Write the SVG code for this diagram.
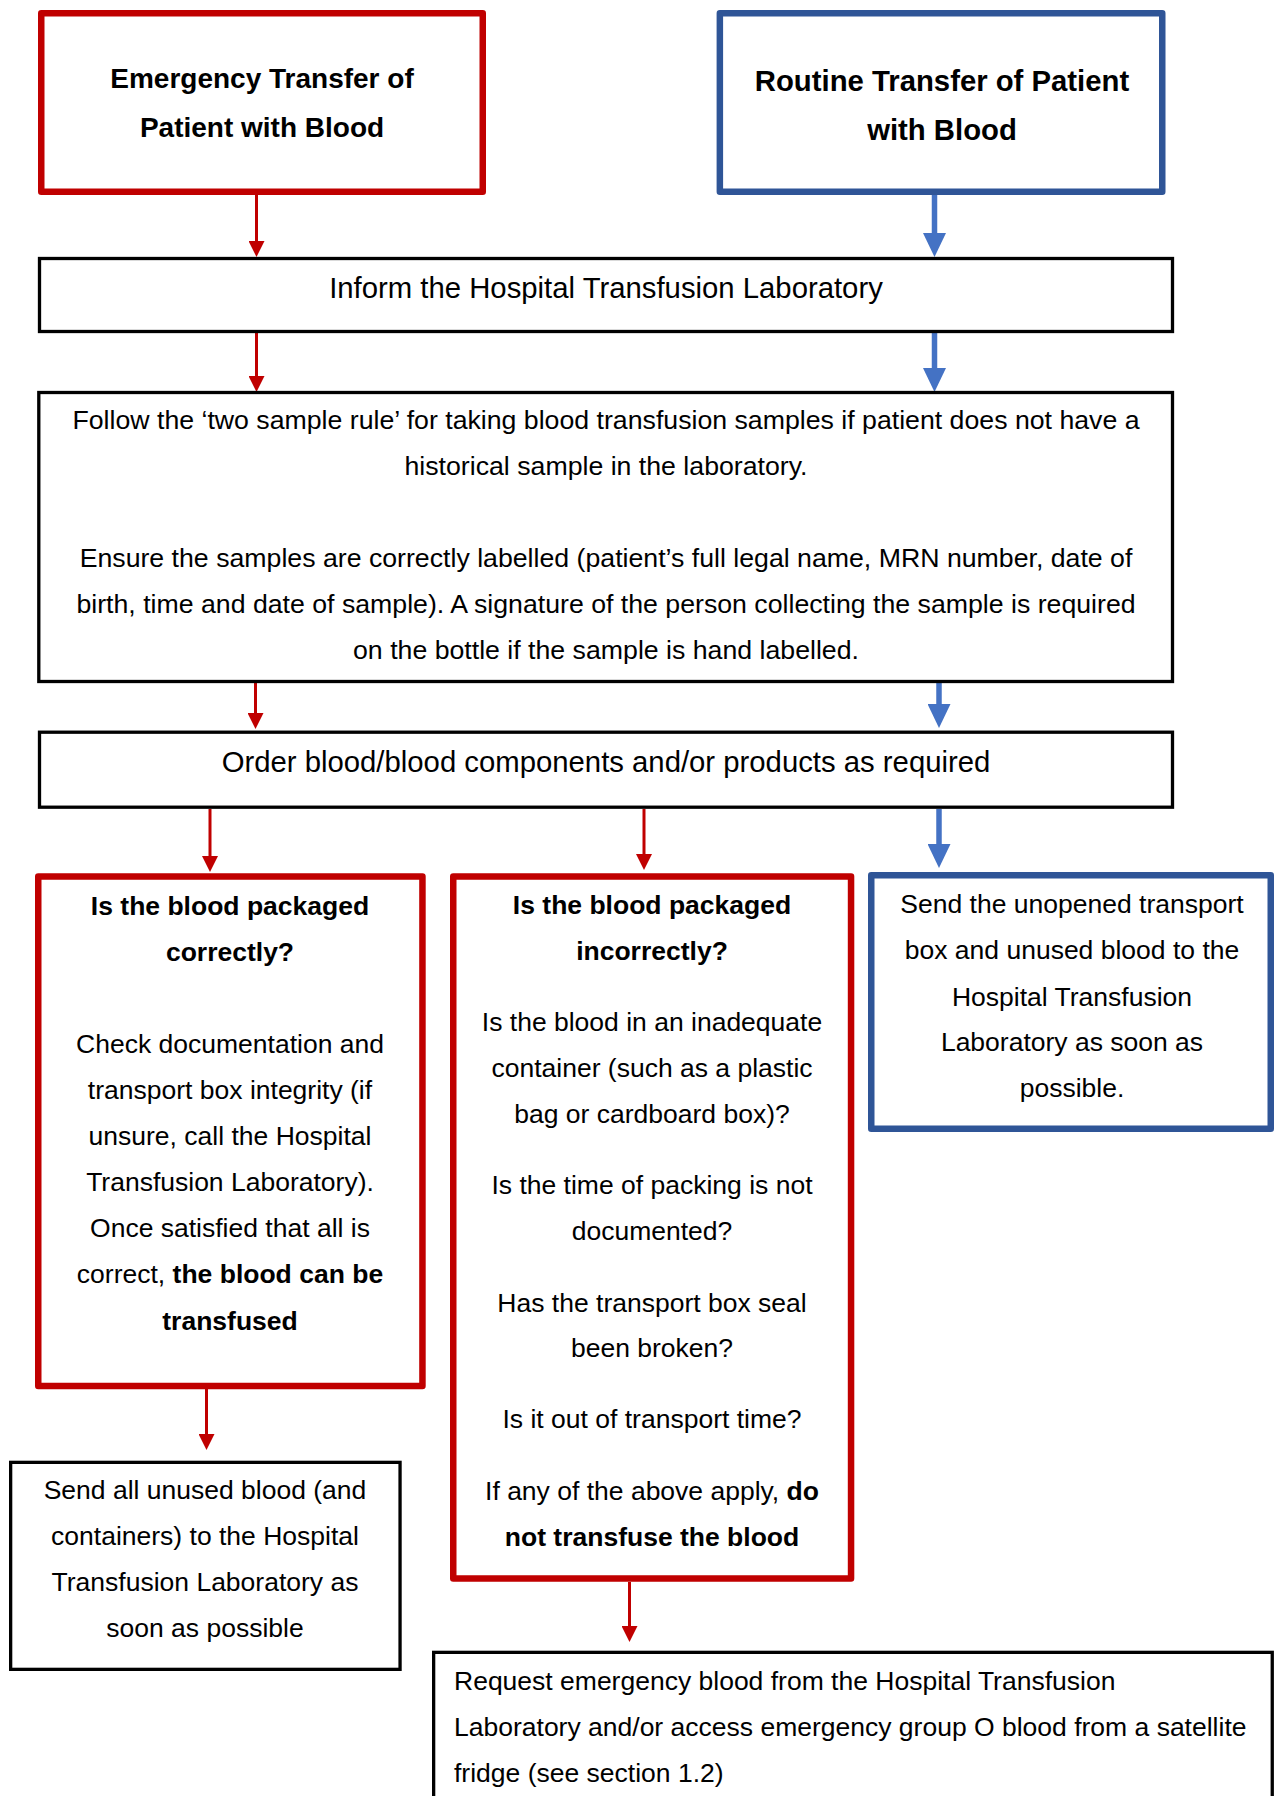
<svg xmlns="http://www.w3.org/2000/svg" width="1274" height="1796" viewBox="0 0 1274 1796">
<style>
.t{font-family:"Liberation Sans",Arial,sans-serif;fill:#000;text-anchor:middle}
.s{font-size:26.5px}
.f{font-size:26.7px}
.m{font-size:29.3px}
.b{font-weight:bold}
.redbox{fill:#fff;stroke:#C00000;stroke-width:6.5;stroke-linejoin:round}
.bluebox{fill:#fff;stroke:#2F5597;stroke-width:6.5;stroke-linejoin:round}
.blkbox{fill:#fff;stroke:#000;stroke-width:3.3}
.ra{stroke:#C00000;stroke-width:3;fill:none}
.ba{stroke:#4472C4;stroke-width:5.5;fill:none}
</style>
<defs>
<marker id="mr" markerUnits="userSpaceOnUse" viewBox="0 0 16 16" markerWidth="16" markerHeight="16" refX="1" refY="8" orient="auto"><path d="M0,0 L16,8 L0,16 z" fill="#C00000"/></marker>
<marker id="mb" markerUnits="userSpaceOnUse" viewBox="0 0 24 23" markerWidth="24" markerHeight="23" refX="1" refY="11.5" orient="auto"><path d="M0,0 L24,11.5 L0,23 z" fill="#4472C4"/></marker>
</defs>
<rect width="1274" height="1796" fill="#fff"/>

<g id="connectors">
<line class="ra" x1="256.5" y1="195" x2="256.5" y2="242" marker-end="url(#mr)"/>
<line class="ba" x1="934.5" y1="195" x2="934.5" y2="234" marker-end="url(#mb)"/>
<line class="ra" x1="256.5" y1="333" x2="256.5" y2="377" marker-end="url(#mr)"/>
<line class="ba" x1="934.5" y1="333" x2="934.5" y2="369" marker-end="url(#mb)"/>
<line class="ra" x1="255.5" y1="683" x2="255.5" y2="714" marker-end="url(#mr)"/>
<line class="ba" x1="939" y1="683" x2="939" y2="705" marker-end="url(#mb)"/>
<line class="ra" x1="210" y1="809" x2="210" y2="857" marker-end="url(#mr)"/>
<line class="ra" x1="644" y1="809" x2="644" y2="855" marker-end="url(#mr)"/>
<line class="ba" x1="939" y1="809" x2="939" y2="845" marker-end="url(#mb)"/>
<line class="ra" x1="206.5" y1="1389" x2="206.5" y2="1435" marker-end="url(#mr)"/>
<line class="ra" x1="629.5" y1="1582" x2="629.5" y2="1627" marker-end="url(#mr)"/>
</g>

<g id="emergency">
<rect class="redbox" x="41.25" y="13.25" width="441.5" height="178.5"/>
<text class="t b" font-size="28" x="262" y="88.3">Emergency Transfer of</text>
<text class="t b" font-size="28" x="262" y="137.3">Patient with Blood</text>
</g>

<g id="routine">
<rect class="bluebox" x="719.85" y="13.25" width="442.4" height="178.5"/>
<text class="t m b" x="942" y="90.7">Routine Transfer of Patient</text>
<text class="t m b" x="942" y="140">with Blood</text>
</g>

<g id="inform">
<rect class="blkbox" x="39.5" y="258.5" width="1133" height="73"/>
<text class="t m" x="606" y="298">Inform the Hospital Transfusion Laboratory</text>
</g>

<g id="follow">
<rect class="blkbox" x="38.8" y="392.5" width="1133.7" height="289"/>
<text class="t f" x="606" y="429.3">Follow the ‘two sample rule’ for taking blood transfusion samples if patient does not have a</text>
<text class="t f" x="606" y="475.3">historical sample in the laboratory.</text>
<text class="t f" x="606" y="566.7">Ensure the samples are correctly labelled (patient’s full legal name, MRN number, date of</text>
<text class="t f" x="606" y="612.7">birth, time and date of sample). A signature of the person collecting the sample is required</text>
<text class="t f" x="606" y="658.5">on the bottle if the sample is hand labelled.</text>
</g>

<g id="order">
<rect class="blkbox" x="39.5" y="732.2" width="1133" height="75"/>
<text class="t m" x="606" y="771.5">Order blood/blood components and/or products as required</text>
</g>

<g id="correct">
<rect class="redbox" x="38.25" y="876.5" width="384.2" height="509.6"/>
<text class="t s b" x="230" y="914.5">Is the blood packaged</text>
<text class="t s b" x="230" y="960.7">correctly?</text>
<text class="t s" x="230" y="1053">Check documentation and</text>
<text class="t s" x="230" y="1099">transport box integrity (if</text>
<text class="t s" x="230" y="1145">unsure, call the Hospital</text>
<text class="t s" x="230" y="1191.3">Transfusion Laboratory).</text>
<text class="t s" x="230" y="1237.3">Once satisfied that all is</text>
<text class="t s" x="230" y="1283.3">correct, <tspan class="b">the blood can be</tspan></text>
<text class="t s b" x="230" y="1329.5">transfused</text>
</g>

<g id="incorrect">
<rect class="redbox" x="453.25" y="876.5" width="397.8" height="702"/>
<text class="t s b" x="652" y="913.5">Is the blood packaged</text>
<text class="t s b" x="652" y="959.5">incorrectly?</text>
<text class="t s" x="652" y="1030.7">Is the blood in an inadequate</text>
<text class="t s" x="652" y="1076.7">container (such as a plastic</text>
<text class="t s" x="652" y="1123">bag or cardboard box)?</text>
<text class="t s" x="652" y="1194">Is the time of packing is not</text>
<text class="t s" x="652" y="1239.5">documented?</text>
<text class="t s" x="652" y="1311.7">Has the transport box seal</text>
<text class="t s" x="652" y="1357.3">been broken?</text>
<text class="t s" x="652" y="1428.3">Is it out of transport time?</text>
<text class="t s" x="652" y="1500">If any of the above apply, <tspan class="b">do</tspan></text>
<text class="t s b" x="652" y="1546">not transfuse the blood</text>
</g>

<g id="return-unopened">
<rect class="bluebox" x="871.25" y="875.25" width="399.5" height="253.5"/>
<text class="t s" x="1072" y="913.3">Send the unopened transport</text>
<text class="t s" x="1072" y="959.3">box and unused blood to the</text>
<text class="t s" x="1072" y="1005.5">Hospital Transfusion</text>
<text class="t s" x="1072" y="1051.3">Laboratory as soon as</text>
<text class="t s" x="1072" y="1097">possible.</text>
</g>

<g id="return-unused">
<rect class="blkbox" x="10.65" y="1462.35" width="389.4" height="207"/>
<text class="t s" x="205" y="1499.3">Send all unused blood (and</text>
<text class="t s" x="205" y="1545.3">containers) to the Hospital</text>
<text class="t s" x="205" y="1591">Transfusion Laboratory as</text>
<text class="t s" x="205" y="1636.5">soon as possible</text>
</g>

<g id="request-emergency">
<rect class="blkbox" x="433.65" y="1652.35" width="838.6" height="200"/>
<text class="t s" style="text-anchor:start" x="454" y="1690">Request emergency blood from the Hospital Transfusion</text>
<text class="t s" style="text-anchor:start" x="454" y="1736">Laboratory and/or access emergency group O blood from a satellite</text>
<text class="t s" style="text-anchor:start" x="454" y="1782">fridge (see section 1.2)</text>
</g>
</svg>
